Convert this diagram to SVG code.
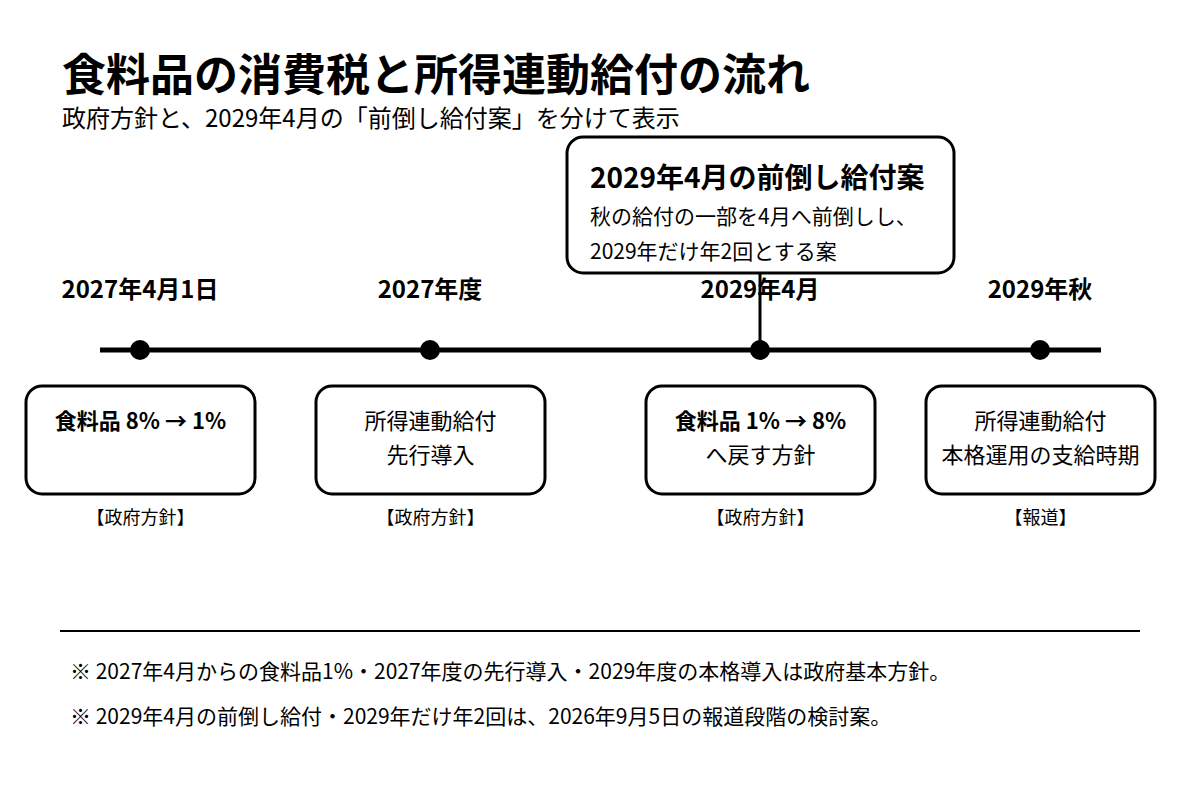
<svg xmlns="http://www.w3.org/2000/svg" width="1200" height="800" viewBox="0 0 1200 800">
<style>
text{font-family:"Noto Sans CJK JP","Noto Sans",sans-serif;fill:#000}
.title{font-size:44px;font-weight:700}
.sub{font-size:24px}
.date{font-size:24px;font-weight:700;text-anchor:middle}
.box{fill:#fff;stroke:#000;stroke-width:3}
.bt{font-size:22px;text-anchor:middle}
.b{font-weight:700}
.src{font-size:18px;text-anchor:middle}
.ct{font-size:28px;font-weight:700}
.cb{font-size:21px}
.note{font-size:21px}
.dot{fill:#000}
</style>
<rect width="1200" height="800" fill="#fff"/>
<text class="title" x="62" y="91">食料品の消費税と所得連動給付の流れ</text>
<text class="sub" x="62" y="127">政府方針と、2029年4月の「前倒し給付案」を分けて表示</text>

<g id="connectors">
<line x1="100" y1="350" x2="1101" y2="350" stroke="#000" stroke-width="5"/>
<line x1="760" y1="273" x2="760" y2="350" stroke="#000" stroke-width="3"/>
</g>

<g id="callout">
<rect class="box" x="567" y="137" width="387" height="136" rx="16"/>
<text class="ct" x="590" y="188">2029年4月の前倒し給付案</text>
<text class="cb" x="590" y="224">秋の給付の一部を4月へ前倒しし、</text>
<text class="cb" x="590" y="259">2029年だけ年2回とする案</text>
</g>

<g id="m1">
<text class="date" x="140" y="298">2027年4月1日</text>
<circle class="dot" cx="140" cy="350" r="10"/>
<rect class="box" x="26" y="386" width="229" height="108" rx="16"/>
<text class="bt b" x="140.5" y="429">食料品 8% → 1%</text>
<text class="src" x="140.5" y="524">【政府方針】</text>
</g>
<g id="m2">
<text class="date" x="430" y="298">2027年度</text>
<circle class="dot" cx="430" cy="350" r="10"/>
<rect class="box" x="316" y="386" width="229" height="108" rx="16"/>
<text class="bt" x="430.5" y="429">所得連動給付</text>
<text class="bt" x="430.5" y="463">先行導入</text>
<text class="src" x="430.5" y="524">【政府方針】</text>
</g>
<g id="m3">
<text class="date" x="760" y="298">2029年4月</text>
<circle class="dot" cx="760" cy="350" r="10"/>
<rect class="box" x="646" y="386" width="229" height="108" rx="16"/>
<text class="bt b" x="760.5" y="429">食料品 1% → 8%</text>
<text class="bt" x="760.5" y="463">へ戻す方針</text>
<text class="src" x="760.5" y="524">【政府方針】</text>
</g>
<g id="m4">
<text class="date" x="1040" y="298">2029年秋</text>
<circle class="dot" cx="1040" cy="350" r="10"/>
<rect class="box" x="926" y="386" width="229" height="108" rx="16"/>
<text class="bt" x="1040.5" y="429">所得連動給付</text>
<text class="bt" x="1040.5" y="463">本格運用の支給時期</text>
<text class="src" x="1040.5" y="524">【報道】</text>
</g>

<line x1="60" y1="631" x2="1140" y2="631" stroke="#000" stroke-width="2"/>
<text class="note" x="70" y="679">※ 2027年4月からの食料品1%・2027年度の先行導入・2029年度の本格導入は政府基本方針。</text>
<text class="note" x="70" y="724">※ 2029年4月の前倒し給付・2029年だけ年2回は、2026年9月5日の報道段階の検討案。</text>
</svg>
